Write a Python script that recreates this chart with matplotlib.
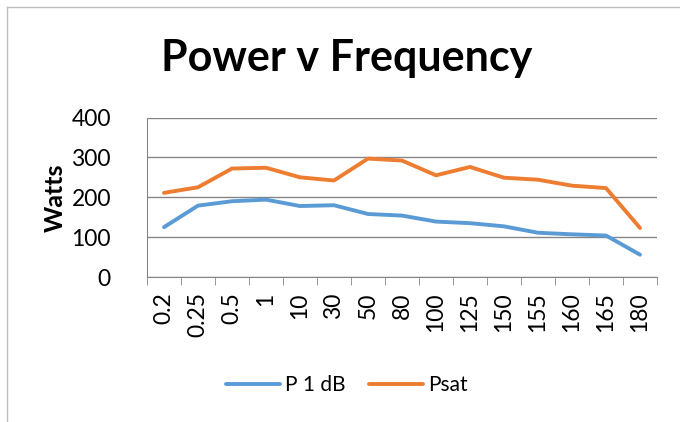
import matplotlib
matplotlib.use("Agg")
import matplotlib.pyplot as plt
from matplotlib.lines import Line2D

plt.rcParams['font.family'] = ['Lato', 'DejaVu Sans']

freqs = ["0.2", "0.25", "0.5", "1", "10", "30", "50", "80", "100", "125",
         "150", "155", "160", "165", "180"]
p1db = [125, 179, 190, 194, 178, 180, 158, 154, 139, 135, 127, 111, 107, 104, 56]
psat = [211, 225, 272, 274, 250, 242, 297, 292, 255, 276, 249, 244, 229, 223, 123]

blue = "#5B9BD5"
orange = "#ED7D31"
grid_col = "#868686"

fig = plt.figure(figsize=(6.8, 4.22), dpi=100)
# chart border (only top and left edges show in the crop)
fig.add_artist(Line2D([6.5 / 680, 6.5 / 680], [0, 1 - 6.5 / 422],
                      transform=fig.transFigure, color="#BFBFBF", linewidth=1))
fig.add_artist(Line2D([6.5 / 680, 1], [1 - 6.5 / 422, 1 - 6.5 / 422],
                      transform=fig.transFigure, color="#BFBFBF", linewidth=1))

ax = fig.add_axes([147 / 680, 1 - 277 / 422, 510 / 680, 159.5 / 422])

x = list(range(len(freqs)))
ax.plot(x, p1db, color=blue, linewidth=2.8, label="P 1 dB", solid_capstyle="round")
ax.plot(x, psat, color=orange, linewidth=2.8, label="Psat", solid_capstyle="round")

ax.set_ylim(0, 400)
ax.set_yticks([0, 100, 200, 300, 400])
ax.set_xlim(-0.5, len(freqs) - 0.5)
ax.set_xticks(x)
ax.set_xticklabels(freqs, rotation=90)
ax.set_xticks([i - 0.5 for i in range(len(freqs) + 1)], minor=True)
ax.tick_params(axis="x", which="major", length=0, pad=11, labelsize=16.5)
ax.tick_params(axis="x", which="minor", length=6, color=grid_col, direction="out")
ax.tick_params(axis="y", length=0, pad=26, labelsize=16.5)

ax.grid(axis="y", color=grid_col, linewidth=1)
ax.set_axisbelow(True)
for s in ["top", "right"]:
    ax.spines[s].set_visible(False)
ax.spines["left"].set_color(grid_col)
ax.spines["bottom"].set_color(grid_col)

ax.set_ylabel("Watts", fontsize=18, fontweight="bold", labelpad=3)
fig.text(347 / 680, 1 - 58 / 422, "Power v Frequency", fontsize=31,
         fontweight="bold", ha="center", va="center")

fig.legend(loc="center", bbox_to_anchor=(347 / 680, 1 - 385 / 422), ncol=2,
           frameon=False, fontsize=15, handlelength=2.6, columnspacing=1.1,
           handletextpad=0.25)

fig.savefig("out.png", dpi=100)
